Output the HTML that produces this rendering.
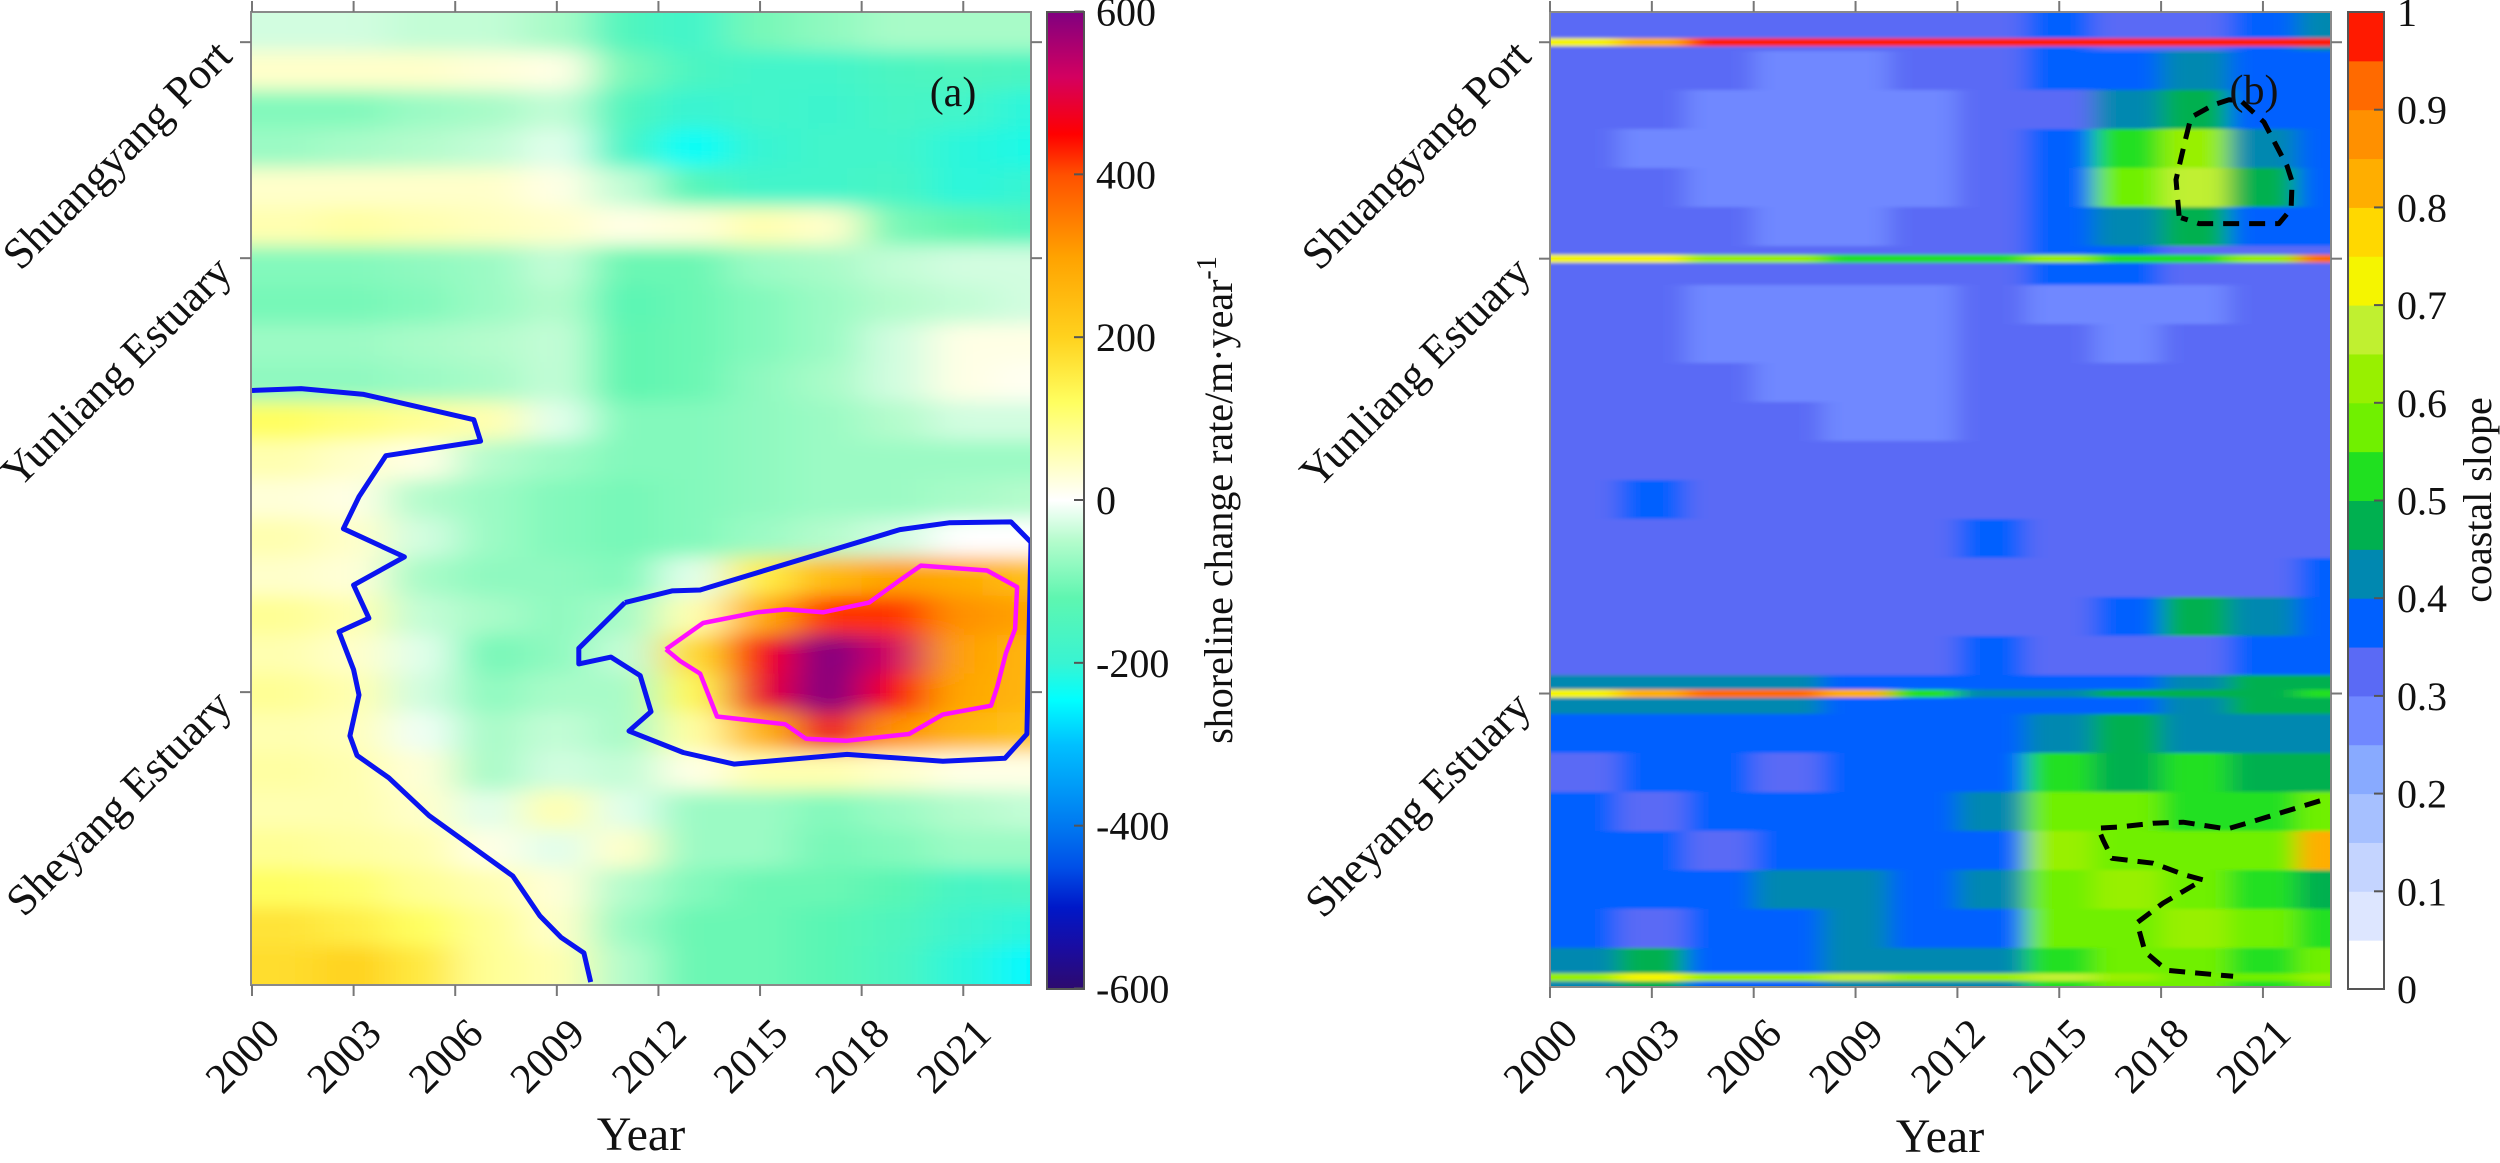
<!DOCTYPE html>
<html><head><meta charset="utf-8"><title>Shoreline change rate and coastal slope</title>
<style>
html,body{margin:0;padding:0;background:#fff;}
svg, svg text{font-family:"Liberation Serif","DejaVu Serif",serif;}
</style></head>
<body>
<svg id="fig" xmlns="http://www.w3.org/2000/svg" width="2500" height="1158" viewBox="0 0 2500 1158" font-family="Liberation Serif, DejaVu Serif, serif">
<defs>
  <clipPath id="clipA"><rect x="251" y="12" width="780" height="973"/></clipPath>
  <clipPath id="clipB"><rect x="1550" y="12" width="781" height="975"/></clipPath>
  <filter id="blurA" x="-5%" y="-5%" width="110%" height="110%"><feGaussianBlur stdDeviation="22 9"/></filter>
  <filter id="blurB" x="-5%" y="-5%" width="110%" height="110%"><feGaussianBlur stdDeviation="12 1.5"/></filter>
  <linearGradient id="gradA" x1="0" y1="1" x2="0" y2="0"></linearGradient>
</defs>
<g id="panelA">
  <g clip-path="url(#clipA)"><g id="heatA" filter="url(#blurA)"></g></g>
  <g clip-path="url(#clipA)" id="contA"></g>
  <rect x="251" y="12" width="780" height="973" fill="none" stroke="#8a8a8a" stroke-width="2"/>
  <g id="ticksA"></g>
  <text x="953" y="106" font-size="42" text-anchor="middle" fill="#111">(a)</text>
  <text x="641" y="1150" font-size="48" text-anchor="middle" fill="#111">Year</text>
  <rect x="1047" y="12" width="37" height="977" fill="url(#gradA)" stroke="#555" stroke-width="2"/>
  <g id="cbTicksA"></g>
  <text transform="translate(1232,500) rotate(-90)" font-size="40" text-anchor="middle" fill="#111">shoreline change rate/m·year<tspan dy="-16" font-size="28">-1</tspan></text>
</g>
<g id="panelB">
  <g clip-path="url(#clipB)"><g id="heatB" filter="url(#blurB)"></g></g>
  <g clip-path="url(#clipB)" id="contB"></g>
  <rect x="1550" y="12" width="781" height="975" fill="none" stroke="#8a8a8a" stroke-width="2"/>
  <g id="ticksB"></g>
  <text x="2254" y="104" font-size="42" text-anchor="middle" fill="#111">(b)</text>
  <text x="1940" y="1152" font-size="48" text-anchor="middle" fill="#111">Year</text>
  <g id="cbB"></g>
  <text transform="translate(2491,500) rotate(-90)" font-size="40" text-anchor="middle" fill="#111">coastal slope</text>
</g>
</svg>
<script>
const NS="http://www.w3.org/2000/svg";
// ---------- data ----------
const tickYears=[2000,2003,2006,2009,2012,2015,2018,2021];
const siteNames=["Shuangyang Port","Yunliang Estuary","Sheyang Estuary"];
const siteFracs=[0.031,0.253,0.699];
const cbATicks=[600,400,200,0,-200,-400,-600];
const cmapVals=[-600,-550,-500,-450,-400,-300,-245,-200,-120,-50,0,60,120,200,300,400,450,520,600];
const cmapCols=["#2d0a6e","#1a0ca0","#0018c8","#0050e8","#0078f0","#00c0ff","#00ffff","#38f4d2","#5ef6b0","#b4fccc","#ffffff","#ffffb0","#ffff60","#ffd21e","#ffa200","#ff5000","#ff0000","#d40060","#800080"];
const rateA=[
[-30,-30,-40,-40,-60,-150,-180,-100,-80,-60,-60,-60],
[40,40,40,30,20,-100,-160,-180,-180,-160,-150,-160],
[-90,-90,-70,-60,-40,-150,-200,-180,-190,-170,-180,-210],
[-70,-60,-50,-40,-20,-170,-240,-200,-180,-180,-210,-220],
[40,40,40,40,20,-40,-140,-180,-180,-170,-210,-200],
[60,70,60,50,40,20,30,60,40,-100,-120,-150],
[-90,-90,-80,-70,-40,-110,-110,-70,-60,-40,-30,-30],
[-100,-100,-90,-70,-50,-130,-110,-90,-70,-50,-40,-30],
[-70,-70,-60,-50,-40,-120,-110,-90,-70,-30,20,20],
[-80,-80,-70,-60,-40,-120,-110,-80,-60,-30,20,10],
[120,100,80,60,-20,-90,-90,-80,-70,-50,-30,-30],
[60,40,20,-50,-70,-90,-90,-80,-70,-70,-70,-70],
[30,20,-50,-70,-90,-100,-90,-80,-70,-70,-60,-50],
[60,40,-30,-70,-90,-100,-90,-70,-50,-30,0,0],
[40,30,-60,-80,-80,-90,-20,150,250,300,280,240],
[80,60,-40,-60,-80,-60,60,280,420,420,320,300],
[60,40,-20,-100,-80,-40,180,460,600,520,300,260],
[80,60,-30,-80,-60,-60,130,480,600,460,290,260],
[60,50,-10,-60,-40,-60,70,260,480,320,260,230],
[70,60,30,-60,-30,-40,20,60,60,40,20,20],
[60,60,40,-20,60,-20,-70,-70,-90,-70,-50,-40],
[80,70,60,20,-20,40,-70,-70,-100,-90,-70,-70],
[120,110,80,60,30,-50,-90,-110,-110,-130,-170,-160],
[170,150,120,80,40,-70,-110,-110,-130,-150,-190,-210],
[180,200,160,80,60,-50,-110,-110,-130,-160,-210,-250]
];
const blue1Years=[2000.0,2001.45,2003.3,2006.55,2006.75,2003.95,2003.16,2002.7,2004.5,2003.0,2003.45,2002.57,2003.0,2003.16,2002.89,2003.1,2004.04,2005.23,2007.7,2008.5,2009.12,2009.8,2010.0];
const blue1Fracs=[0.389,0.387,0.393,0.419,0.441,0.456,0.498,0.531,0.560,0.589,0.623,0.637,0.676,0.702,0.744,0.764,0.787,0.826,0.888,0.929,0.951,0.967,0.997];
const blue2Years=[2011.01,2012.40,2013.23,2019.13,2020.58,2022.41,2023.0,2022.88,2022.23,2020.40,2017.57,2014.23,2012.73,2011.13,2011.78,2011.46,2010.60,2009.65,2009.65,2011.01];
const blue2Fracs=[0.607,0.595,0.594,0.532,0.525,0.524,0.545,0.742,0.767,0.770,0.763,0.773,0.761,0.739,0.719,0.682,0.663,0.670,0.654,0.607];
const magYears=[2012.22,2013.32,2014.91,2015.77,2016.86,2018.22,2019.13,2019.75,2021.70,2022.59,2022.53,2022.26,2022.0,2021.82,2020.40,2019.40,2017.54,2016.36,2015.74,2013.73,2013.23,2012.64,2012.22];
const magFracs=[0.655,0.628,0.617,0.614,0.617,0.607,0.584,0.569,0.574,0.591,0.634,0.659,0.694,0.713,0.722,0.742,0.749,0.747,0.732,0.724,0.680,0.667,0.655];
const slopeLevels=[0,0.05,0.1,0.15,0.2,0.25,0.3,0.35,0.4,0.45,0.5,0.55,0.6,0.65,0.7,0.75,0.8,0.85,0.9,0.95];
const slopeCols=["#ffffff","#dde6ff","#c4d4ff","#a6c0ff","#88aaff","#7088ff","#5a6af5","#0060ff","#0088b0","#00b050","#20e020","#70f000","#98f000","#c0f030","#f5f500","#ffd800","#ffae00","#ff9000","#ff6a00","#ff1a00"];
const cbBTicks=[0,0.1,0.2,0.3,0.4,0.5,0.6,0.7,0.8,0.9,1];
const slopeB=[
[0.32,0.32,0.32,0.32,0.32,0.32,0.32,0.37,0.32,0.32,0.37,0.42],
[0.32,0.32,0.32,0.27,0.27,0.32,0.32,0.37,0.37,0.42,0.37,0.37],
[0.32,0.32,0.27,0.27,0.27,0.27,0.32,0.32,0.42,0.47,0.37,0.37],
[0.32,0.27,0.27,0.27,0.27,0.27,0.32,0.37,0.52,0.62,0.42,0.37],
[0.32,0.32,0.27,0.27,0.27,0.27,0.32,0.37,0.57,0.67,0.47,0.37],
[0.32,0.32,0.32,0.27,0.27,0.32,0.32,0.37,0.42,0.47,0.37,0.37],
[0.32,0.32,0.32,0.32,0.32,0.32,0.32,0.37,0.37,0.32,0.32,0.32],
[0.32,0.32,0.27,0.27,0.27,0.27,0.32,0.27,0.27,0.27,0.32,0.32],
[0.32,0.32,0.27,0.27,0.27,0.27,0.32,0.32,0.27,0.32,0.32,0.32],
[0.32,0.32,0.32,0.27,0.27,0.27,0.32,0.32,0.32,0.32,0.32,0.32],
[0.32,0.32,0.32,0.32,0.27,0.27,0.32,0.32,0.32,0.32,0.32,0.32],
[0.32,0.32,0.32,0.32,0.32,0.32,0.32,0.32,0.32,0.32,0.32,0.32],
[0.32,0.37,0.32,0.32,0.32,0.32,0.32,0.32,0.32,0.32,0.32,0.32],
[0.32,0.32,0.32,0.32,0.32,0.32,0.37,0.32,0.32,0.32,0.32,0.32],
[0.32,0.32,0.32,0.32,0.32,0.32,0.32,0.32,0.32,0.32,0.32,0.37],
[0.32,0.32,0.32,0.32,0.32,0.32,0.32,0.32,0.37,0.47,0.42,0.37],
[0.32,0.32,0.32,0.32,0.32,0.32,0.37,0.32,0.32,0.32,0.37,0.37],
[0.42,0.42,0.42,0.42,0.37,0.37,0.37,0.37,0.37,0.42,0.47,0.47],
[0.37,0.37,0.37,0.37,0.37,0.37,0.37,0.42,0.47,0.42,0.42,0.42],
[0.32,0.37,0.37,0.32,0.37,0.37,0.37,0.52,0.47,0.52,0.47,0.47],
[0.37,0.32,0.37,0.37,0.37,0.37,0.42,0.57,0.57,0.52,0.52,0.57],
[0.37,0.37,0.32,0.37,0.37,0.37,0.37,0.62,0.57,0.57,0.57,0.82],
[0.37,0.37,0.37,0.42,0.42,0.37,0.42,0.57,0.62,0.57,0.52,0.47],
[0.37,0.32,0.37,0.37,0.42,0.37,0.37,0.57,0.57,0.62,0.57,0.52],
[0.42,0.47,0.37,0.37,0.42,0.42,0.42,0.52,0.57,0.57,0.52,0.57]
];
const stripeFracs=[0.031,0.253,0.699,0.99];
const stripeVals=[
[0.72,0.82,0.97,0.97,0.97,0.97,0.97,0.97,0.97,0.97,0.97,0.97],
[0.72,0.72,0.62,0.62,0.52,0.52,0.52,0.62,0.52,0.52,0.62,0.92],
[0.72,0.82,0.92,0.92,0.82,0.52,0.42,0.42,0.47,0.47,0.47,0.52],
[0.62,0.72,0.62,0.62,0.67,0.62,0.62,0.67,0.62,0.57,0.57,0.62]
];
const dash1Years=[2018.53,2018.44,2018.70,2018.88,2019.56,2020.0,2020.35,2021.03,2021.71,2021.86,2021.83,2021.47,2019.12,2018.59];
const dash1Fracs=[0.209,0.172,0.133,0.108,0.095,0.090,0.091,0.113,0.158,0.174,0.202,0.217,0.217,0.211];
const dash2Years=[2022.68,2020.53,2019.94,2018.65,2017.76,2016.73,2016.14,2016.29,2016.55,2017.76,2018.70,2019.23,2018.06,2017.29,2017.53,2017.97,2018.20,2020.12];
const dash2Fracs=[0.809,0.832,0.838,0.831,0.832,0.836,0.837,0.849,0.868,0.873,0.885,0.890,0.914,0.934,0.964,0.977,0.983,0.989];

// ---------- scales ----------
const xA=y=>252+(y-2000)*33.87, yA=f=>12+f*973;
const xB=y=>1550+(y-2000)*33.95, yB=f=>12+f*975;
const cbAy=v=>500-v*(488.5/600);
const cbBy=v=>989-v*977;
function hex2rgb(h){return [parseInt(h.substr(1,2),16),parseInt(h.substr(3,2),16),parseInt(h.substr(5,2),16)];}
function cmapA(v){
  if(v<=cmapVals[0])return cmapCols[0];
  for(let i=1;i<cmapVals.length;i++){
    if(v<=cmapVals[i]){const t=(v-cmapVals[i-1])/(cmapVals[i]-cmapVals[i-1]);const a=hex2rgb(cmapCols[i-1]),b=hex2rgb(cmapCols[i]);
      return "rgb("+a.map((c,k)=>Math.round(c+(b[k]-c)*t)).join(",")+")";}
  }
  return cmapCols[cmapCols.length-1];
}
function cmapB(v){let idx=0;for(let i=0;i<slopeLevels.length;i++){if(v>=slopeLevels[i])idx=i;}return slopeCols[idx];}
function mk(tag,parent){const e=document.createElementNS(NS,tag);parent.appendChild(e);return e;}

// ---------- panel A heatmap ----------
const hA=document.getElementById("heatA");
const nRA=rateA.length;
rateA.forEach((row,r)=>{
  row.forEach((v,c)=>{
    const y0=2000+2*c, y1=y0+2;
    const x0=c===0?xA(y0)-60:xA(y0), x1=c===row.length-1?xA(y1)+60:xA(y1);
    const t0=r===0?yA(0)-30:yA(r/nRA), t1=r===nRA-1?yA(1)+30:yA((r+1)/nRA);
    const e=mk("rect",hA);
    
    
    e.setAttribute("x",x0);e.setAttribute("y",t0);e.setAttribute("width",x1-x0+0.5);e.setAttribute("height",t1-t0+0.5);
    e.setAttribute("fill",cmapA(v));
  });
});
function poly(parent,years,fracs,xs,ys,color,w,dash,name){
  const e=mk("polyline",parent);
  
  
  e.setAttribute("points",years.map((yr,i)=>xs(yr).toFixed(1)+","+ys(fracs[i]).toFixed(1)).join(" "));
  e.setAttribute("fill","none");e.setAttribute("stroke",color);e.setAttribute("stroke-width",w);
  e.setAttribute("stroke-linejoin","round");
  if(dash)e.setAttribute("stroke-dasharray",dash);
}
const cA=document.getElementById("contA");
poly(cA,blue1Years,blue1Fracs,xA,yA,"#0a14f0",5,null,"contour-blue-left");
poly(cA,blue2Years,blue2Fracs,xA,yA,"#0a14f0",5,null,"contour-blue-right");
poly(cA,magYears,magFracs,xA,yA,"#ff10ff",4.5,null,"contour-magenta");

// ---------- axis ticks ----------
function axisTicks(gid,xs,x0,x1,ys){
  const g=document.getElementById(gid);
  tickYears.forEach(yr=>{
    const x=xs(yr);
    const t1=mk("line",g);
    
    
    t1.setAttribute("x1",x);t1.setAttribute("x2",x);t1.setAttribute("y1",ys(1));t1.setAttribute("y2",ys(1)+11);t1.setAttribute("stroke","#777");t1.setAttribute("stroke-width",2);
    const t2=mk("line",g);
    
    
    t2.setAttribute("x1",x);t2.setAttribute("x2",x);t2.setAttribute("y1",ys(0));t2.setAttribute("y2",ys(0)-11);t2.setAttribute("stroke","#777");t2.setAttribute("stroke-width",2);
    const tx=mk("text",g);
    
    
    tx.setAttribute("transform","translate("+(x+30)+",1036) rotate(-45)");
    tx.setAttribute("text-anchor","end");tx.setAttribute("font-size","42");tx.setAttribute("fill","#111");
    tx.textContent=yr;
  });
  siteFracs.forEach((f,i)=>{
    const y=ys(f);
    const a=mk("line",g);
    
    
    a.setAttribute("x1",x0);a.setAttribute("x2",x0-11);a.setAttribute("y1",y);a.setAttribute("y2",y);a.setAttribute("stroke","#777");a.setAttribute("stroke-width",2);
    const b=mk("line",g);
    
    
    b.setAttribute("x1",x1);b.setAttribute("x2",x1+11);b.setAttribute("y1",y);b.setAttribute("y2",y);b.setAttribute("stroke","#777");b.setAttribute("stroke-width",2);
    const tx=mk("text",g);
    
    
    tx.setAttribute("transform","translate("+(x0-17)+","+(y+16)+") rotate(-45)");
    tx.setAttribute("text-anchor","end");tx.setAttribute("font-size","44");tx.setAttribute("fill","#111");
    tx.textContent=siteNames[i];
  });
}
axisTicks("ticksA",xA,251,1031,yA);
axisTicks("ticksB",xB,1550,2331,yB);

// ---------- colorbar A ----------
const grad=document.getElementById("gradA");
cmapVals.forEach((v,i)=>{
  const s=mk("stop",grad);
  s.setAttribute("offset",((v+600)/1200).toFixed(4));s.setAttribute("stop-color",cmapCols[i]);
});
const cbtA=document.getElementById("cbTicksA");
cbATicks.forEach(v=>{
  const y=cbAy(v);
  const l=mk("line",cbtA);
  
  
  l.setAttribute("x1",1084);l.setAttribute("x2",1074);l.setAttribute("y1",y);l.setAttribute("y2",y);l.setAttribute("stroke","#555");l.setAttribute("stroke-width",2);
  const t=mk("text",cbtA);
  
  
  t.setAttribute("x",1096);t.setAttribute("y",y+14);t.setAttribute("font-size","40");t.setAttribute("fill","#111");
  t.textContent=v;
});

// ---------- panel B heatmap ----------
const hB=document.getElementById("heatB");
const nRB=slopeB.length;
slopeB.forEach((row,r)=>{
  row.forEach((v,c)=>{
    const y0=2000+2*c,y1=y0+2;
    const x0=c===0?xB(y0)-30:xB(y0), x1=c===row.length-1?xB(y1)+30:xB(y1);
    const t0=r===0?yB(0)-10:yB(r/nRB), t1=r===nRB-1?yB(1)+10:yB((r+1)/nRB);
    const e=mk("rect",hB);
    
    
    e.setAttribute("x",x0);e.setAttribute("y",t0);e.setAttribute("width",x1-x0+0.5);e.setAttribute("height",t1-t0+0.5);
    e.setAttribute("fill",cmapB(v));
  });
});
stripeFracs.forEach((f,s)=>{
  stripeVals[s].forEach((v,c)=>{
    const y0=2000+2*c,y1=y0+2;
    const x0=c===0?xB(y0)-30:xB(y0), x1=c===11?xB(y1)+30:xB(y1);
    const e=mk("rect",hB);
    
    
    e.setAttribute("x",x0);e.setAttribute("y",yB(f)-4);e.setAttribute("width",x1-x0+0.5);e.setAttribute("height",8);
    e.setAttribute("fill",cmapB(v));
  });
});
const cB=document.getElementById("contB");
poly(cB,dash1Years,dash1Fracs,xB,yB,"#000",5,"16 10","dashed-region-upper");
poly(cB,dash2Years,dash2Fracs,xB,yB,"#000",5,"16 10","dashed-region-lower");

// ---------- colorbar B ----------
const cbB=document.getElementById("cbB");
slopeLevels.forEach((lv,i)=>{
  const e=mk("rect",cbB);
  
  
  const yTop=cbBy(lv+0.05), yBot=cbBy(lv);
  e.setAttribute("x",2348);e.setAttribute("y",yTop);e.setAttribute("width",36);e.setAttribute("height",yBot-yTop+0.5);
  e.setAttribute("fill",slopeCols[i]);
});
const fr=mk("rect",cbB);


fr.setAttribute("x",2348);fr.setAttribute("y",12);fr.setAttribute("width",36);fr.setAttribute("height",977);fr.setAttribute("fill","none");fr.setAttribute("stroke","#555");fr.setAttribute("stroke-width",2);
cbBTicks.forEach(v=>{
  const y=cbBy(v);
  const l=mk("line",cbB);
  
  
  l.setAttribute("x1",2384);l.setAttribute("x2",2374);l.setAttribute("y1",y);l.setAttribute("y2",y);l.setAttribute("stroke","#555");l.setAttribute("stroke-width",2);
  const t=mk("text",cbB);
  
  
  t.setAttribute("x",2397);t.setAttribute("y",y+14);t.setAttribute("font-size","40");t.setAttribute("fill","#111");
  t.textContent=v;
});
</script>
</body></html>
